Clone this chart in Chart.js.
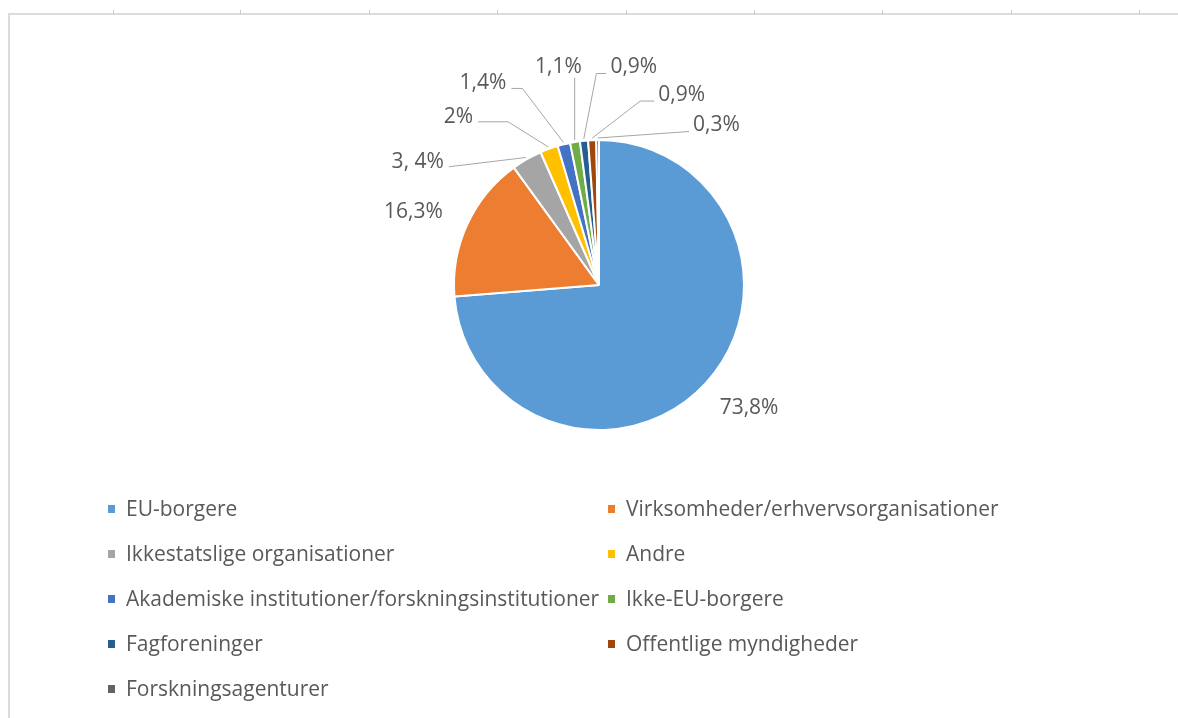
<!DOCTYPE html>
<html lang="da">
<head>
<meta charset="utf-8">
<title>Respondenter</title>
<script src="https://cdn.jsdelivr.net/npm/chart.js@4.4.1/dist/chart.umd.min.js"></script>
<style>
  body { margin: 0; background: #fff; }
  #wrap { position: relative; width: 1178px; height: 718px; overflow: hidden; }
  #frame {
    position: absolute; left: 8px; top: 13px; right: 0; bottom: 0;
    border-left: 2px solid #dcdcdc; border-top: 2px solid #dcdcdc;
  }
  .tick { position: absolute; top: 10px; width: 1px; height: 4px; background: #cccccc; }
  #chartBox { position: absolute; left: 0; top: 0; width: 1178px; height: 718px; }
  #legend {
    position: absolute; left: 108px; top: 485px;
    display: grid; grid-template-columns: 500px 500px;
  }
  .item {
    display: flex; align-items: center; height: 45px;
    font: 21px "Open Sans", sans-serif; color: #595959; white-space: nowrap;
  }
  .box { width: 7px; height: 8px; margin-right: 11px; margin-top: 3px; flex: none; }
</style>
</head>
<body>
<div id="wrap">
  <div id="frame"></div>
  <div class="tick" style="left:113px"></div>
  <div class="tick" style="left:240px"></div>
  <div class="tick" style="left:369px"></div>
  <div class="tick" style="left:497px"></div>
  <div class="tick" style="left:626px"></div>
  <div class="tick" style="left:754px"></div>
  <div class="tick" style="left:882px"></div>
  <div class="tick" style="left:1011px"></div>
  <div class="tick" style="left:1139px"></div>
  <div id="chartBox"><canvas id="pieChart"></canvas></div>
  <div id="legend"></div>
</div>
<script>
const categories = [
  "EU-borgere",
  "Virksomheder/erhvervsorganisationer",
  "Ikkestatslige organisationer",
  "Andre",
  "Akademiske institutioner/forskningsinstitutioner",
  "Ikke-EU-borgere",
  "Fagforeninger",
  "Offentlige myndigheder",
  "Forskningsagenturer",
];
const shares = [73.8, 16.3, 3.4, 2, 1.4, 1.1, 0.9, 0.9, 0.3];
const shareLabels = ["73,8%", "16,3%", "3, 4%", "2%", "1,4%", "1,1%", "0,9%", "0,9%", "0,3%"];

const colors = ["#5b9bd5", "#ed7d31", "#a5a5a5", "#ffc000", "#4472c4", "#70ad47", "#255e91", "#9e480e", "#636363"];

// label spots relative to pie centre, in units of the radius; leader = side the line leaves from
const labelSpots = [
  { dx: 1.035, dy: 0.85, leader: "none" },
  { dx: -1.28, dy: -0.50, leader: "none" },
  { dx: -1.25, dy: -0.85, leader: "right", elbow: 0 },
  { dx: -0.97, dy: -1.16, leader: "right", elbow: 30 },
  { dx: -0.80, dy: -1.39, leader: "right", elbow: 11 },
  { dx: -0.28, dy: -1.50, leader: "below" },
  { dx: 0.24, dy: -1.50, leader: "left", elbow: 10 },
  { dx: 0.57, dy: -1.31, leader: "left", elbow: 14 },
  { dx: 0.81, dy: -1.10, leader: "left", elbow: 0 },
];

const labelFont = '21px "Open Sans", sans-serif';

const pieLabels = {
  id: "pieLabels",
  afterDatasetsDraw(chart) {
    const ctx = chart.ctx;
    const meta = chart.getDatasetMeta(0);
    ctx.save();
    ctx.font = labelFont;
    ctx.fillStyle = "#595959";
    ctx.strokeStyle = "#a6a6a6";
    ctx.lineWidth = 1;
    ctx.textAlign = "center";
    ctx.textBaseline = "middle";
    meta.data.forEach((arc, i) => {
      const { x, y, outerRadius, startAngle, endAngle } = arc.getProps(
        ["x", "y", "outerRadius", "startAngle", "endAngle"], true);
      const spot = labelSpots[i];
      const lx = x + spot.dx * outerRadius;
      const ly = y + spot.dy * outerRadius;
      const text = shareLabels[i];
      ctx.fillText(text, lx, ly);
      if (spot.leader === "none") return;

      const mid = (startAngle + endAngle) / 2;
      const ex = x + Math.cos(mid) * (outerRadius + 2);
      const ey = y + Math.sin(mid) * (outerRadius + 2);
      const w = ctx.measureText(text).width;
      let sx, sy, kx, ky;
      if (spot.leader === "right") {
        sx = lx + w / 2 + 5; sy = ly + 5;
        kx = sx + spot.elbow; ky = sy;
      } else if (spot.leader === "left") {
        sx = lx - w / 2 - 4; sy = ly + 6;
        kx = sx - spot.elbow; ky = sy;
      } else {
        sx = ex; sy = ly + 10;
        kx = sx; ky = sy;
      }
      ctx.beginPath();
      ctx.moveTo(sx, sy);
      ctx.lineTo(kx, ky);
      ctx.lineTo(ex, ey);
      ctx.stroke();
    });
    ctx.restore();
  },
};

const chart = new Chart(document.getElementById("pieChart"), {
  type: "pie",
  data: {
    labels: categories,
    datasets: [{
      data: shares,
      backgroundColor: colors,
      borderColor: "#ffffff",
      borderWidth: 2,
    }],
  },
  options: {
    responsive: true,
    maintainAspectRatio: false,
    animation: false,
    layout: { padding: { top: 139, bottom: 287, left: 453, right: 433 } },
    plugins: {
      legend: { display: false },
      tooltip: { enabled: false },
    },
  },
  plugins: [pieLabels],
});

// two-column legend, same order as the slices
const legendDiv = document.getElementById("legend");
categories.forEach((name, i) => {
  const item = document.createElement("div");
  item.className = "item";
  item.innerHTML = `<span class="box" style="background:${colors[i]}"></span><span>${name}</span>`;
  legendDiv.appendChild(item);
});
</script>
</body>
</html>
